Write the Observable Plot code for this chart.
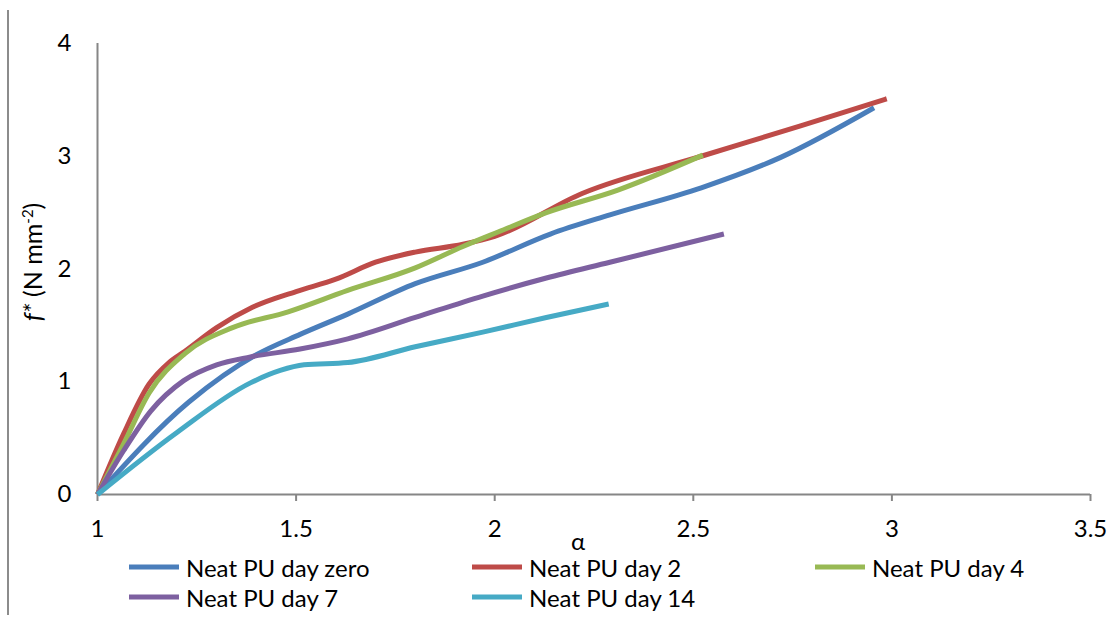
<!DOCTYPE html>
<html>
<head>
<meta charset="utf-8">
<script src="https://cdn.jsdelivr.net/npm/d3@7"></script>
<script src="https://cdn.jsdelivr.net/npm/@observablehq/plot@0.6"></script>
<style>
  body { margin: 0; background: #fff; }
  #wrap { position: relative; width: 1116px; height: 621px; overflow: hidden; font-family: Lato, "Open Sans", sans-serif; color: #000; }
  #frame { position: absolute; left: 7px; top: 10px; height: 605px; border-left: 2px solid #8c8c8c; }
  #ylab { position: absolute; left: 32px; top: 262px; transform: translate(-50%, -50%) rotate(-90deg); font-size: 25px; white-space: nowrap; }
  #ylab sup { font-size: 15px; vertical-align: 9px; line-height: 0; }
  #xlab { position: absolute; left: 578px; top: 540px; transform: translate(-50%, -50%); font-size: 24px; }
  .leg { position: absolute; display: flex; align-items: center; font-size: 24px; white-space: nowrap; transform: translateY(-50%); }
  .leg .sw { width: 50px; height: 5px; margin-right: 7px; }
</style>
</head>
<body>
<div id="wrap">
  <div id="chart"></div>
  <div id="frame"></div>
  <div id="ylab"><i>f*</i> (N mm<sup>-2</sup>)</div>
  <div id="xlab">α</div>
  <div id="legend"></div>
</div>
<script>
// Series names and colours
const seriesNames = ["Neat PU day zero", "Neat PU day 2", "Neat PU day 4", "Neat PU day 7", "Neat PU day 14"];
const seriesColors = ["#4A7EBB", "#BE4B48", "#98B954", "#7D60A0", "#46AAC5"];

// Neat PU day zero
const dayZeroAlpha = [1, 1.23, 1.4, 1.51, 1.63, 1.8, 1.97, 2.14, 2.29, 2.52, 2.72, 2.955];
const dayZeroF     = [0, 0.82, 1.24, 1.42, 1.60, 1.87, 2.06, 2.31, 2.48, 2.72, 2.99, 3.43];
// Neat PU day 2
const day2Alpha = [1, 1.066, 1.13, 1.18, 1.22, 1.3, 1.39, 1.5, 1.6, 1.7, 1.8, 1.92, 2.0, 2.22, 2.52, 2.77, 2.987];
const day2F     = [0, 0.54, 0.98, 1.17, 1.27, 1.48, 1.66, 1.80, 1.91, 2.06, 2.15, 2.22, 2.29, 2.67, 3.0, 3.27, 3.51];
// Neat PU day 4
const day4Alpha = [1, 1.066, 1.13, 1.22, 1.34, 1.48, 1.63, 1.8, 1.92, 2.01, 2.13, 2.31, 2.524];
const day4F     = [0, 0.45, 0.90, 1.25, 1.48, 1.62, 1.81, 2.01, 2.20, 2.33, 2.50, 2.70, 3.01];
// Neat PU day 7
const day7Alpha = [1, 1.066, 1.134, 1.217, 1.3, 1.385, 1.51, 1.63, 1.8, 1.97, 2.13, 2.29, 2.577];
const day7F     = [0, 0.39, 0.74, 1.01, 1.15, 1.22, 1.29, 1.38, 1.57, 1.76, 1.92, 2.06, 2.31];
// Neat PU day 14
const day14Alpha = [1, 1.2, 1.385, 1.46, 1.52, 1.63, 1.8, 1.97, 2.13, 2.287];
const day14F     = [0, 0.55, 0.99, 1.10, 1.15, 1.17, 1.31, 1.44, 1.57, 1.69];

const xTicks = [1, 1.5, 2, 2.5, 3, 3.5];
const yTicks = [0, 1, 2, 3, 4];

const seriesArrays = [
  [dayZeroAlpha, dayZeroF],
  [day2Alpha, day2F],
  [day4Alpha, day4F],
  [day7Alpha, day7F],
  [day14Alpha, day14F]
];
const data = seriesArrays.flatMap(([xs, ys], i) => xs.map((x, j) => ({series: seriesNames[i], alpha: x, f: ys[j]})));

const axisGrey = "#868686";
const chart = Plot.plot({
  width: 1116,
  height: 545,
  marginLeft: 97,
  marginRight: 26,
  marginTop: 43,
  marginBottom: 51,
  style: {fontFamily: "Lato, 'Open Sans', sans-serif", fontSize: "24px", color: "#000", background: "#fff"},
  x: {domain: [1, 3.5], ticks: xTicks},
  y: {domain: [0, 4], ticks: yTicks},
  color: {domain: seriesNames, range: seriesColors},
  marks: [
    Plot.axisY({ticks: yTicks, tickSize: 0, tickPadding: 26, label: null, fill: "#000", tickFormat: d3.format("")}),
    Plot.axisX({ticks: xTicks, tickSize: 7, tickPadding: 18, label: null, stroke: axisGrey, strokeWidth: 2, fill: "#000", tickFormat: d3.format("")}),
    Plot.ruleX([1], {y1: 0, y2: 4, stroke: axisGrey, strokeWidth: 2}),
    Plot.ruleY([0], {x1: 1, x2: 3.5, stroke: axisGrey, strokeWidth: 2}),
    Plot.line(data, {x: "alpha", y: "f", z: "series", stroke: "series", strokeWidth: 5, curve: "monotone-x", strokeLinecap: "butt", strokeLinejoin: "round"})
  ]
});
document.getElementById("chart").appendChild(chart);

// Legend
const legendPos = [[129, 567], [472, 567], [815, 567], [129, 597], [472, 597]];
const legend = document.getElementById("legend");
seriesNames.forEach((name, i) => {
  const item = document.createElement("div");
  item.className = "leg";
  item.style.left = legendPos[i][0] + "px";
  item.style.top = legendPos[i][1] + "px";
  const sw = document.createElement("span");
  sw.className = "sw";
  sw.style.background = seriesColors[i];
  const tx = document.createElement("span");
  tx.textContent = name;
  item.appendChild(sw);
  item.appendChild(tx);
  legend.appendChild(item);
});
</script>
</body>
</html>
